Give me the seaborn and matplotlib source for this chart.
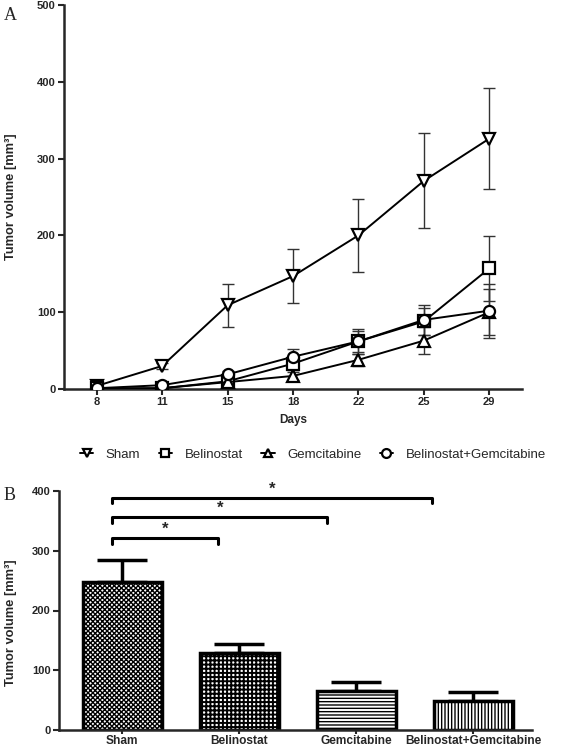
import numpy as np
import pandas as pd
import matplotlib
matplotlib.use('Agg')
import matplotlib.pyplot as plt
import seaborn as sns

sns.set_style('ticks')
plt.rcParams['font.family'] = ['Liberation Sans', 'DejaVu Sans']
plt.rcParams['hatch.linewidth'] = 1.0

# panel A: tumor growth over time
days = ['8', '11', '15', '18', '22', '25', '29']
groups = ['Sham', 'Belinostat', 'Gemcitabine', 'Belinostat+Gemcitabine']
sham_mean = [4, 30, 109, 147, 200, 271, 326]
sham_err = [2, 4, 28, 35, 48, 62, 66]
beli_mean = [1, 1, 10, 33, 62, 88, 157]
beli_err = [0, 1, 3, 8, 14, 18, 42]
gem_mean = [0, 1, 9, 17, 38, 63, 100]
gem_err = [0, 1, 2, 5, 8, 18, 30]
combo_mean = [1, 5, 19, 42, 62, 90, 102]
combo_err = [0, 2, 4, 10, 16, 20, 35]
markers = {'Sham': 'v', 'Belinostat': 's', 'Gemcitabine': '^',
           'Belinostat+Gemcitabine': 'o'}

# panel B: final tumor volume
final_mean = [247, 129, 66, 48]
final_err = [38, 15, 14, 15]
hatches = ['xxxxxxx', '++++', '-----', '|||||']
# significance brackets: (left, right, height)
brackets = [(-0.085, 0.82, 321), (-0.085, 1.75, 356), (-0.085, 2.65, 389)]

means = [sham_mean, beli_mean, gem_mean, combo_mean]
errs = [sham_err, beli_err, gem_err, combo_err]
df = pd.DataFrame({
    'day': days * 4,
    'vol': sum(means, []),
    'err': sum(errs, []),
    'group': np.repeat(groups, len(days)),
})

fig = plt.figure(figsize=(5.67, 7.48), dpi=100)
ax1 = fig.add_axes([64 / 567, 1 - 389 / 748, 458 / 567, 384 / 748])
ax2 = fig.add_axes([59 / 567, 1 - 730 / 748, 473 / 567, 239 / 748])

for g in groups:
    sub = df[df['group'] == g]
    ax1.errorbar(sub['day'], sub['vol'], yerr=sub['err'], fmt='none',
                 ecolor='#333333', elinewidth=1.0, capsize=4, capthick=1.0, zorder=1)
sns.lineplot(data=df, x='day', y='vol', hue='group', style='group',
             markers=markers, dashes=False, palette=['black'] * 4, ax=ax1,
             markersize=8, markeredgewidth=1.6, markerfacecolor='white',
             markeredgecolor='black', linewidth=1.4, zorder=3)
ax1.set_xlim(-0.5, 6.5)
ax1.set_ylim(0, 500)
ax1.set_yticks([0, 100, 200, 300, 400, 500])
handles, labels = ax1.get_legend_handles_labels()
ax1.get_legend().remove()
ax1.set_xlabel('Days', fontsize=8.5, fontweight='bold', labelpad=5)
ax1.set_ylabel('Tumor volume [mm³]', fontsize=9.3, fontweight='bold')
ax1.yaxis.set_label_coords(-0.1026, 0.5)

fig.legend(handles, labels, ncol=4, loc='center', bbox_to_anchor=(0.552, 0.392),
           frameon=False, handlelength=1.0, columnspacing=1.4, handletextpad=0.95,
           fontsize=9.5, markerscale=0.8)

sns.barplot(x=groups, y=final_mean, color='white', edgecolor='black',
            linewidth=2.5, width=0.675, ax=ax2, zorder=2)
for patch, h in zip(ax2.patches, hatches):
    patch.set_hatch(h)
    if h == '++++' and hasattr(patch, 'set_hatch_linewidth'):
        patch.set_hatch_linewidth(1.4)
ax2.errorbar(groups, final_mean, yerr=[np.zeros(4), final_err], fmt='none',
             ecolor='black', elinewidth=2.5, capsize=18, capthick=2.5, zorder=1)
ax2.set_xlim(-0.54, 3.5)
ax2.set_ylim(0, 400)
ax2.set_yticks([0, 100, 200, 300, 400])
ax2.set_ylabel('Tumor volume [mm³]', fontsize=9.3, fontweight='bold')
ax2.yaxis.set_label_coords(-0.0888, 0.45)

for x0, x1, y in brackets:
    ax2.plot([x0, x0, x1, x1], [y - 9, y, y, y - 9], color='black', lw=2.2,
             clip_on=False)
    ax2.text((x0 + x1) / 2, y + 2, '*', ha='center', va='bottom', fontsize=12,
             fontweight='bold', clip_on=False)

for ax in (ax1, ax2):
    sns.despine(ax=ax)
    ax.spines['left'].set_linewidth(1.8)
    ax.spines['bottom'].set_linewidth(1.8)
    ax.tick_params(width=1.5, length=4, pad=2)
    for lab in ax.get_xticklabels() + ax.get_yticklabels():
        lab.set_fontweight('bold')
        lab.set_fontsize(8)
ax2.tick_params(axis='x', length=3, pad=0.5)
for lab in ax2.get_xticklabels():
    lab.set_fontsize(8.6)

fig.text(4 / 567, 1 - 20 / 748, 'A', family='Liberation Serif', fontsize=13)
fig.text(4 / 567, 1 - 500 / 748, 'B', family='Liberation Serif', fontsize=13)

fig.savefig('out.png', dpi=100)
